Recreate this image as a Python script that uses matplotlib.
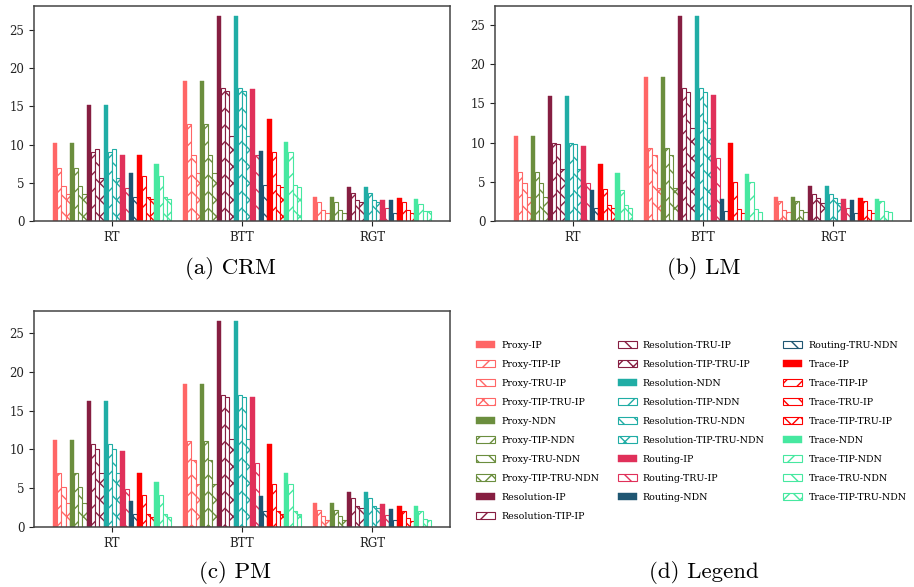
import numpy as np
import matplotlib
matplotlib.use("Agg")
import matplotlib.pyplot as plt
from matplotlib.patches import Patch

plt.rcParams["font.family"] = "DejaVu Serif"
plt.rcParams["hatch.linewidth"] = 1.0

groups = ["RT", "BTT", "RGT"]

series = [
    "Proxy-IP", "Proxy-TIP-IP", "Proxy-TRU-IP", "Proxy-TIP-TRU-IP",
    "Proxy-NDN", "Proxy-TIP-NDN", "Proxy-TRU-NDN", "Proxy-TIP-TRU-NDN",
    "Resolution-IP", "Resolution-TIP-IP", "Resolution-TRU-IP", "Resolution-TIP-TRU-IP",
    "Resolution-NDN", "Resolution-TIP-NDN", "Resolution-TRU-NDN", "Resolution-TIP-TRU-NDN",
    "Routing-IP", "Routing-TRU-IP", "Routing-NDN", "Routing-TRU-NDN",
    "Trace-IP", "Trace-TIP-IP", "Trace-TRU-IP", "Trace-TIP-TRU-IP",
    "Trace-NDN", "Trace-TIP-NDN", "Trace-TRU-NDN", "Trace-TIP-TRU-NDN",
]

# one colour per family (IP / NDN)
c_proxy_ip, c_proxy_ndn = "#FF6666", "#6B8E3E"
c_res_ip, c_res_ndn = "#861E41", "#20ADA5"
c_rout_ip, c_rout_ndn = "#E0305A", "#1F5672"
c_trace_ip, c_trace_ndn = "#FF0000", "#46E8A0"

colors = ([c_proxy_ip] * 4 + [c_proxy_ndn] * 4 + [c_res_ip] * 4 + [c_res_ndn] * 4
          + [c_rout_ip] * 2 + [c_rout_ndn] * 2 + [c_trace_ip] * 4 + [c_trace_ndn] * 4)
h4 = ["", "//", "\\\\", "xx"]
hatches = h4 * 4 + ["", "\\\\", "", "\\\\"] + h4 * 2

# (a) CRM
crm_rt = [10.2, 6.9, 4.6, 3.5, 10.2, 6.9, 4.6, 3.5, 15.2, 9.0, 9.4, 5.6, 15.2, 9.0, 9.4, 5.6,
          8.7, 4.3, 6.3, 3.2, 8.6, 5.9, 3.2, 2.9, 7.5, 5.9, 3.2, 2.9]
crm_btt = [18.3, 12.7, 8.7, 6.3, 18.3, 12.7, 8.7, 6.3, 26.8, 17.4, 17.0, 11.1, 26.8, 17.4, 17.0, 11.1,
           17.3, 8.7, 9.2, 4.7, 13.3, 9.0, 4.7, 4.5, 10.3, 9.0, 4.7, 4.4]
crm_rgt = [3.1, 2.5, 1.4, 1.0, 3.1, 2.5, 1.4, 1.0, 4.5, 3.7, 2.8, 2.5, 4.5, 3.7, 2.8, 2.5,
           2.8, 1.7, 2.7, 1.0, 3.0, 2.5, 1.4, 1.1, 2.9, 2.2, 1.3, 1.3]
# (b) LM
lm_rt = [10.85, 6.3, 4.9, 3.0, 10.85, 6.3, 4.9, 3.0, 15.9, 9.9, 9.8, 6.6, 15.9, 9.9, 9.8, 6.6,
         9.5, 4.8, 3.9, 1.6, 7.3, 4.1, 2.0, 1.6, 6.1, 4.0, 2.0, 1.6]
lm_btt = [18.3, 9.3, 8.4, 4.2, 18.3, 9.3, 8.4, 4.2, 26.1, 16.9, 16.4, 11.9, 26.1, 16.9, 16.4, 11.9,
          16.0, 8.0, 2.75, 1.3, 10.0, 5.0, 1.5, 1.0, 6.0, 5.0, 1.5, 1.1]
lm_rgt = [3.05, 2.5, 1.4, 1.1, 3.05, 2.5, 1.4, 1.1, 4.5, 3.5, 2.9, 2.3, 4.5, 3.5, 2.9, 2.3,
          2.8, 1.6, 2.7, 1.0, 2.9, 2.5, 1.4, 1.0, 2.8, 2.5, 1.3, 1.2]
# (c) PM
pm_rt = [11.2, 6.9, 5.1, 3.1, 11.2, 6.9, 5.1, 3.1, 16.2, 10.7, 10.05, 7.0, 16.2, 10.7, 10.05, 7.0,
         9.8, 4.9, 3.4, 1.7, 7.0, 4.1, 1.7, 1.3, 5.8, 4.1, 1.7, 1.3]
pm_btt = [18.4, 11.1, 8.6, 5.5, 18.4, 11.1, 8.6, 5.5, 26.5, 17.0, 16.7, 11.4, 26.5, 17.0, 16.7, 11.4,
          16.7, 8.3, 4.0, 2.1, 10.65, 5.6, 2.1, 1.7, 7.0, 5.6, 2.1, 1.7]
pm_rgt = [3.1, 2.2, 1.4, 0.9, 3.1, 2.2, 1.4, 0.9, 4.5, 3.8, 2.7, 2.4, 4.5, 3.8, 2.7, 2.4,
          2.9, 1.5, 2.3, 0.9, 2.7, 2.1, 1.1, 0.8, 2.7, 2.0, 1.0, 0.9]

panels = [
    ("(a) CRM", [crm_rt, crm_btt, crm_rgt]),
    ("(b) LM", [lm_rt, lm_btt, lm_rgt]),
    ("(c) PM", [pm_rt, pm_btt, pm_rgt]),
]

W, H = 914, 587
fig = plt.figure(figsize=(W / 100, H / 100), dpi=100)

# axes boxes in pixels: left, top, right, bottom
boxes = [(34, 6, 450, 221), (495, 6, 911, 221), (34, 311, 450, 527)]
captions_xy = [(230, 268), (704, 268), (235, 573)]

n = len(series)
width = 0.0325
x = np.arange(len(groups))


def style_kwargs(i):
    if hatches[i] == "":
        return dict(color=colors[i], edgecolor=colors[i], linewidth=0.3)
    return dict(facecolor="white", edgecolor=colors[i], hatch=hatches[i], linewidth=0.8)


for (title, vals), (l, t, r, b), (cx, cy) in zip(panels, boxes, captions_xy):
    ax = fig.add_axes([l / W, 1 - b / H, (r - l) / W, (b - t) / H])
    for i in range(n):
        heights = [vals[g][i] for g in range(len(groups))]
        ax.bar(x + (i - (n - 1) / 2) * width, heights, width, **style_kwargs(i))
    ax.set_xticks(x)
    ax.set_xticklabels(groups)
    ax.set_yticks([0, 5, 10, 15, 20, 25])
    ax.tick_params(labelsize=8.5, colors="#222222")
    for s in ax.spines.values():
        s.set_color("#444444")
        s.set_linewidth(1.1)
    fig.text(cx / W, 1 - cy / H, title, ha="center", va="center",
             fontsize=16.5, family="cmr10")

handles = [Patch(label=series[i], **style_kwargs(i)) for i in range(n)]
fig.legend(handles=handles, loc="upper left", bbox_to_anchor=(472 / W, 1 - 337 / H),
           ncol=3, frameon=False, fontsize=6.85, labelspacing=1.05,
           columnspacing=1.95, handlelength=2.0, handletextpad=0.65,
           borderaxespad=0.0, borderpad=0.4)
fig.text(704 / W, 1 - 573 / H, "(d) Legend", ha="center", va="center",
         fontsize=16.5, family="cmr10")

fig.savefig("out.png", dpi=100)
